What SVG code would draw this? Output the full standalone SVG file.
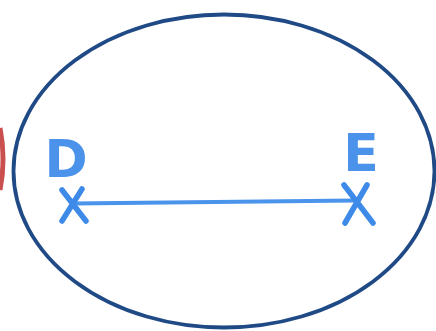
<svg xmlns="http://www.w3.org/2000/svg" width="436" height="331" viewBox="0 0 436 331">
<style>
.lbl{font-family:"DejaVu Sans",sans-serif;font-weight:bold;font-size:52px;fill:#4a92ea;text-anchor:middle}
.mark{stroke:#3d8ae8;stroke-width:5.5;stroke-linecap:round;fill:none}
</style>
<rect width="436" height="331" fill="#ffffff"/>
<path d="M0,128 Q6,159 0,190" fill="none" stroke="#c9504e" stroke-width="5"/>
<g id="ellipse"><ellipse cx="224" cy="171" rx="210.5" ry="156.5" fill="none" stroke="#1f4a85" stroke-width="3.8"/></g>
<g id="connectors"><line x1="73" y1="203.5" x2="355" y2="200.5" stroke="#4a94ec" stroke-width="4"/></g>
<g id="D">
<path class="mark" d="M62,190 L86,221 M82,189 L62,221"/>
<text class="lbl" x="66" y="177">D</text>
</g>
<g id="E">
<path class="mark" d="M344,185 L373,223 M367,185 L345,223"/>
<text class="lbl" x="361" y="171">E</text>
</g>
</svg>
